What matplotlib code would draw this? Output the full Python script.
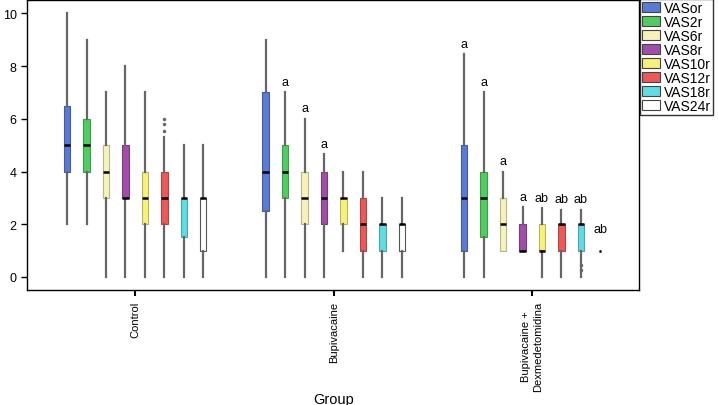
import matplotlib
matplotlib.use("Agg")
import matplotlib.pyplot as plt
from matplotlib.patches import Patch
from matplotlib.colors import to_rgb

plt.rcParams['font.family'] = ['Liberation Sans', 'DejaVu Sans']

groups = ['Control', 'Bupivacaine', 'Bupivacaine +\nDexmedetomidina']
series = ['VASor', 'VAS2r', 'VAS6r', 'VAS8r', 'VAS10r', 'VAS12r', 'VAS18r', 'VAS24r']
colors = ['#5b7bd2', '#52cc62', '#f6f2bc', '#a04fa8', '#f6f07e', '#e95a5a', '#62dbe3', '#ffffff']

# per group: whisker low, q1, median, q3, whisker high (one value per series)
control_low = [2, 2, 0, 0, 0, 0, 0, 0]
control_q1 = [4, 4, 3, 3, 2, 2, 1.5, 1]
control_med = [5, 5, 4, 3, 3, 3, 3, 3]
control_q3 = [6.5, 6, 5, 5, 4, 4, 3, 3]
control_high = [10, 9, 7, 8, 7, 5.3, 5, 5]
control_fliers = [[], [], [], [], [], [5.55, 5.8, 6.0], [], []]
control_letters = ['', '', '', '', '', '', '', '']

bupi_low = [0, 0, 0, 0, 1, 0, 0, 0]
bupi_q1 = [2.5, 3, 2, 2, 2, 1, 1, 1]
bupi_med = [4, 4, 3, 3, 3, 2, 2, 2]
bupi_q3 = [7, 5, 4, 4, 3, 3, 2, 2]
bupi_high = [9, 7, 6, 4.65, 4, 4, 3, 3]
bupi_fliers = [[], [], [], [], [], [], [], []]
bupi_letters = ['', 'a', 'a', 'a', '', '', '', '']

dex_low = [0, 0, 1, 1, 0, 0, 0, 1]
dex_q1 = [1, 1.5, 1, 1, 1, 1, 1, 1]
dex_med = [3, 3, 2, 1, 1, 2, 2, 1]
dex_q3 = [5, 4, 3, 2, 2, 2, 2, 1]
dex_high = [8.45, 7, 4, 2.65, 2.6, 2.55, 2.55, 1]
dex_fliers = [[], [], [], [], [], [], [0.25, 0.45], []]
dex_letters = ['a', 'a', 'a', 'a', 'ab', 'ab', 'ab', 'ab']

data = [
    (control_low, control_q1, control_med, control_q3, control_high, control_fliers, control_letters),
    (bupi_low, bupi_q1, bupi_med, bupi_q3, bupi_high, bupi_fliers, bupi_letters),
    (dex_low, dex_q1, dex_med, dex_q3, dex_high, dex_fliers, dex_letters),
]

fig = plt.figure(figsize=(7.18, 4.06), dpi=100)
ax = fig.add_axes([0.0376, 0.283, 0.853, 0.714])

step = 0.098
width = 0.032
for g, (lo, q1, med, q3, hi, fl, let) in enumerate(data):
    for i in range(len(series)):
        pos = g + (i - 3.5) * step
        stats = [{'whislo': lo[i], 'q1': q1[i], 'med': med[i], 'q3': q3[i],
                  'whishi': hi[i], 'fliers': fl[i]}]
        edge = tuple(c * 0.75 for c in to_rgb(colors[i]))
        if colors[i] == '#ffffff':
            edge = '#555555'
        # a box with no spread is drawn only as a small dot
        w = width if q3[i] > q1[i] or hi[i] > lo[i] else width * 0.35
        ax.bxp(stats, positions=[pos], widths=w, patch_artist=True,
               showcaps=False, manage_ticks=False,
               boxprops=dict(facecolor=colors[i], edgecolor=edge, linewidth=0.8),
               whiskerprops=dict(color='#666666', linewidth=1.6),
               medianprops=dict(color='black', linewidth=1.8),
               flierprops=dict(marker='o', markersize=1.5, markerfacecolor='#666666',
                               markeredgecolor='#666666'))
        if let[i]:
            ax.text(pos, max(hi[i] + 0.4, 1.8), let[i], ha='center', va='center', fontsize=9)

ax.set_xlim(-0.545, 2.54)
ax.set_ylim(-0.5, 10.5)
ax.set_xticks(range(len(groups)))
ax.set_xticklabels(groups, rotation=90, fontsize=8, va='top', ha='center',
                   multialignment='center')
ax.set_yticks([0, 2, 4, 6, 8, 10])
ax.tick_params(axis='y', labelsize=9, length=4, width=1)
ax.tick_params(axis='x', length=4, width=1.5)
ax.set_xlabel('Group', fontsize=10.5)
ax.xaxis.set_label_coords(0.5, -0.35)
for s in ax.spines.values():
    s.set_linewidth(1.0)

handles = [Patch(facecolor=c, edgecolor='#444444', linewidth=0.8) for c in colors]
fig.legend(handles, series, loc='upper left', bbox_to_anchor=(0.891, 1.0),
           fontsize=10, frameon=True, fancybox=False, edgecolor='black',
           borderpad=0.15, labelspacing=0.0, handlelength=1.3, handleheight=0.75,
           handletextpad=0.3, borderaxespad=0)

fig.savefig('out.png', dpi=100)
